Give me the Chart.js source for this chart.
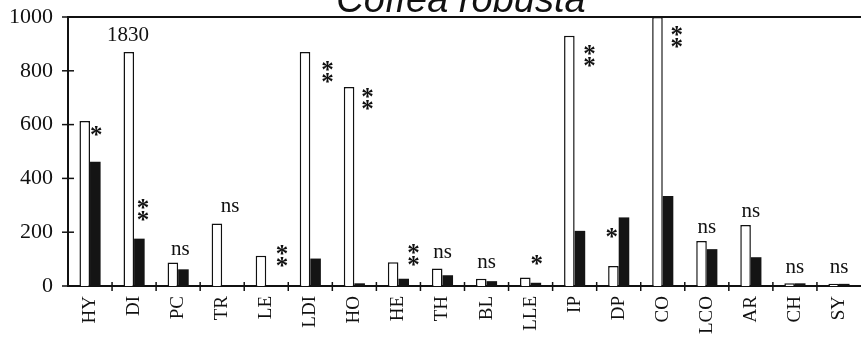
<!DOCTYPE html>
<html>
<head>
<meta charset="utf-8">
<script src="https://cdn.jsdelivr.net/npm/chart.js@4"></script>
<style>
  html, body { margin: 0; padding: 0; background: #fff; }
  #wrap { width: 861px; height: 340px; }
</style>
</head>
<body>
<div id="wrap"><canvas id="chart"></canvas></div>
<script>
// categories and the two series (white = open bar, black = filled bar)
const categories = ['HY', 'DI', 'PC', 'TR', 'LE', 'LDI', 'HO', 'HE', 'TH', 'BL', 'LLE', 'IP', 'DP', 'CO', 'LCO', 'AR', 'CH', 'SY'];
const whiteVals = [613, 870, 87, 232, 112, 870, 740, 88, 65, 27, 32, 930, 74, 1000, 167, 227, 10, 8];
const blackVals = [462, 176, 62, 2, 2, 102, 10, 27, 40, 18, 12, 205, 255, 335, 137, 107, 10, 8];
const yTicks = [0, 200, 400, 600, 800, 1000];

// significance marks: text, value where it sits, shift inside category
const sigText = ['*', '**', 'ns', 'ns', '**', '**', '**', '**', 'ns', 'ns', '*', '**', '*', '**', 'ns', 'ns', 'ns', 'ns'];
const sigValue = [576, 282, 134, 294, 111, 795, 695, 115, 123, 86, 97, 855, 197, 925, 216, 275, 67, 67];
const sigShift = [0.14, 0.2, 0.05, 0.18, 0.36, 0.39, 0.3, 0.34, 0, 0, 0.14, 0.34, -0.16, 0.32, 0, 0, 0, 0];

// DI open bar is broken, its real value printed above it
const brokenIndex = 1;
const brokenLabel = '1830';
const brokenValue = 933;

const title = 'Coffea robusta';
const serif = '"Liberation Serif", "Times New Roman", serif';

const extras = {
    id: 'extras',
    afterDatasetsDraw(chart) {
        const ctx = chart.ctx;
        const area = chart.chartArea;
        const x = chart.scales.x;
        const y = chart.scales.y;
        const catW = (x.getPixelForValue(1) - x.getPixelForValue(0));
        ctx.save();
        ctx.strokeStyle = '#111';
        ctx.lineWidth = 2;

        // top frame line
        ctx.beginPath();
        ctx.moveTo(area.left, area.top);
        ctx.lineTo(area.right, area.top);
        ctx.stroke();

        // y tick marks crossing the axis
        ctx.lineWidth = 1.5;
        yTicks.forEach(v => {
            const py = y.getPixelForValue(v);
            ctx.beginPath();
            ctx.moveTo(area.left - 6, py);
            ctx.lineTo(area.left + 6, py);
            ctx.stroke();
        });

        // x tick marks at category boundaries
        for (let i = 1; i < categories.length; i++) {
            const px = x.getPixelForValue(i) - catW / 2;
            ctx.beginPath();
            ctx.moveTo(px, area.bottom - 4);
            ctx.lineTo(px, area.bottom + 5);
            ctx.stroke();
        }

        // significance marks
        ctx.fillStyle = '#111';
        ctx.textAlign = 'center';
        sigText.forEach((t, i) => {
            const px = x.getPixelForValue(i) + sigShift[i] * catW;
            const py = y.getPixelForValue(sigValue[i]);
            ctx.textBaseline = 'alphabetic';
            if (t === 'ns') {
                ctx.font = '21px ' + serif;
                ctx.fillText(t, px, py + 5);
            } else {
                ctx.font = 'bold 25px ' + serif;
                if (t === '**') {
                    ctx.fillText('*', px, py + 6);
                    ctx.fillText('*', px, py + 18);
                } else {
                    ctx.fillText('*', px, py + 12);
                }
            }
        });

        // broken bar value
        ctx.font = '21px ' + serif;
        ctx.textBaseline = 'middle';
        ctx.fillText(brokenLabel, x.getPixelForValue(brokenIndex) - 0.14 * catW, y.getPixelForValue(brokenValue));

        // title, partly cut off at the top
        ctx.font = 'italic 38px "Liberation Sans", Arial, sans-serif';
        ctx.textBaseline = 'alphabetic';
        ctx.fillText(title, 461, 12);
        ctx.restore();
    }
};

const ctx = document.getElementById('chart').getContext('2d');
new Chart(ctx, {
    type: 'bar',
    data: {
        labels: categories,
        datasets: [
            {
                label: 'open',
                data: whiteVals,
                backgroundColor: '#fff',
                borderColor: '#111',
                borderWidth: 1.5,
                borderSkipped: 'bottom',
                categoryPercentage: 0.48,
                barPercentage: 1.0
            },
            {
                label: 'filled',
                data: blackVals,
                backgroundColor: '#141414',
                borderColor: '#141414',
                borderWidth: 0,
                categoryPercentage: 0.48,
                barPercentage: 1.0
            }
        ]
    },
    options: {
        responsive: true,
        maintainAspectRatio: false,
        animation: false,
        layout: { padding: { top: 17, right: 0, left: 0, bottom: 0 } },
        plugins: {
            legend: { display: false },
            tooltip: { enabled: false }
        },
        scales: {
            x: {
                grid: { display: false, drawTicks: false },
                border: { color: '#111', width: 2 },
                ticks: {
                    color: '#111',
                    font: { family: serif, size: 19 },
                    autoSkip: false,
                    minRotation: 90,
                    maxRotation: 90,
                    padding: 10
                },
                afterFit(scale) {
                    scale.height = 54;
                    scale.paddingLeft = 0;
                    scale.paddingRight = 0;
                }
            },
            y: {
                min: 0,
                max: 1000,
                grid: { display: false, drawTicks: false },
                border: { color: '#111', width: 2 },
                ticks: {
                    color: '#111',
                    stepSize: 200,
                    font: { family: serif, size: 22 },
                    padding: 15,
                    callback: v => String(v)
                },
                afterFit(scale) {
                    scale.width = 68;
                    scale.paddingTop = 0;
                    scale.paddingBottom = 0;
                }
            }
        }
    },
    plugins: [extras]
});
</script>
</body>
</html>
